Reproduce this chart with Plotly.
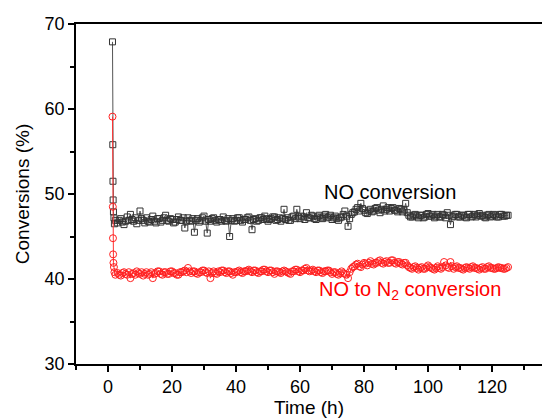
import plotly.graph_objects as go

time_early = [1.4, 1.5, 1.55, 1.6, 1.7, 1.85, 2.0, 2.3]
time_regular = [3 + 0.5 * i for i in range(245)]
time_h = time_early + time_regular

no_conv = [67.9, 55.8, 51.5, 49.3, 47.9, 47.2, 46.5, 46.9,
    46.6, 46.9, 47.1, 46.7, 46.4, 46.8, 47.3, 46.9, 47.6, 47.0,
    46.8, 47.2, 46.5, 46.9, 48.0, 47.1, 46.9, 46.6, 47.2, 46.8,
    46.7, 47.0, 47.4, 46.8, 46.6, 47.1, 47.1, 46.7, 46.9, 47.2,
    47.5, 46.9, 46.8, 47.1, 47.0, 46.6, 46.7, 47.0, 47.3, 46.9,
    46.9, 47.2, 46.0, 46.8, 47.2, 46.9, 46.8, 47.1, 45.5, 46.9,
    47.1, 46.7, 46.9, 47.2, 47.4, 46.8, 45.4, 47.0, 46.8, 47.1,
    47.2, 46.9, 46.7, 47.0, 47.0, 46.8, 47.3, 46.9, 46.8, 47.1,
    45.0, 46.9, 47.1, 46.8, 46.9, 47.2, 47.2, 46.9, 46.7, 47.0,
    47.0, 47.2, 47.3, 46.9, 45.8, 47.0, 47.1, 46.8, 46.9, 47.2,
    47.2, 47.0, 47.4, 47.1, 46.8, 47.0, 47.1, 47.3, 47.3, 46.9,
    47.0, 47.2, 46.8, 47.1, 48.2, 47.0, 47.2, 46.9, 46.9, 47.3,
    47.4, 47.1, 48.2, 47.3, 47.1, 47.4, 47.3, 47.0, 47.8, 47.2,
    47.2, 47.5, 47.4, 47.1, 47.0, 47.3, 47.5, 47.2, 47.1, 47.4,
    47.6, 47.2, 47.3, 47.5, 47.0, 47.2, 47.4, 47.1, 46.9, 47.2,
    47.3, 47.6, 48.0, 47.4, 46.2, 47.1, 47.6, 47.8, 47.9, 48.2,
    48.4, 48.0, 48.9, 48.3, 48.1, 47.8, 47.7, 48.0, 48.2, 47.9,
    48.0, 48.3, 48.4, 48.1, 47.8, 48.2, 48.6, 48.0, 48.2, 48.4,
    48.0, 48.3, 48.4, 48.1, 48.1, 47.9, 48.3, 48.2, 47.9, 48.1,
    48.9, 47.8, 47.5, 47.3, 47.3, 47.5, 47.6, 47.4, 47.2, 47.5,
    47.5, 47.2, 47.3, 47.6, 47.7, 47.4, 47.4, 47.6, 47.2, 47.4,
    47.6, 47.3, 47.3, 47.6, 47.5, 47.2, 47.8, 47.5, 46.4, 47.3,
    47.4, 47.6, 47.6, 47.3, 47.3, 47.5, 47.5, 47.3, 47.2, 47.6,
    47.6, 47.3, 47.4, 47.6, 47.3, 47.5, 47.7, 47.4, 47.5, 47.3,
    47.2, 47.5, 47.6, 47.3, 47.4, 47.6, 47.5, 47.3, 47.3, 47.6,
    47.6, 47.4, 47.4, 47.5, 47.5]

no_to_n2 = [59.1, 48.5, 44.8, 42.9, 41.9, 41.4, 40.8, 40.5,
    40.7, 40.5, 40.4, 40.7, 40.8, 40.6, 40.5, 40.8, 40.1, 40.6,
    40.7, 40.5, 40.9, 40.7, 40.6, 40.8, 40.4, 40.6, 40.8, 40.5,
    40.6, 40.8, 40.1, 40.6, 40.7, 40.9, 40.9, 40.6, 40.5, 40.8,
    40.8, 40.6, 40.6, 40.9, 40.9, 40.7, 40.7, 40.5, 40.5, 40.8,
    40.8, 40.9, 41.0, 40.8, 41.3, 40.9, 40.7, 40.9, 40.9, 40.7,
    40.6, 40.8, 40.8, 41.0, 41.0, 40.8, 40.7, 40.9, 40.1, 40.7,
    40.9, 40.7, 40.6, 40.9, 40.8, 41.0, 41.0, 40.8, 40.7, 40.9,
    40.9, 40.7, 40.5, 40.8, 40.8, 40.9, 41.0, 40.8, 40.7, 40.9,
    40.9, 41.0, 41.1, 40.9, 40.8, 41.0, 41.0, 40.8, 40.7, 40.9,
    40.9, 41.1, 41.1, 40.9, 40.8, 41.0, 41.0, 40.8, 40.6, 40.9,
    40.9, 40.8, 40.7, 40.9, 41.0, 40.9, 40.8, 40.7, 40.6, 40.9,
    40.9, 41.1, 41.1, 40.9, 40.8, 41.0, 41.0, 41.2, 41.3, 41.0,
    40.9, 41.0, 41.1, 40.9, 40.8, 41.0, 41.0, 40.8, 40.7, 40.9,
    40.9, 41.0, 41.0, 40.8, 40.6, 40.8, 40.8, 40.6, 40.5, 40.7,
    40.9, 40.7, 40.6, 40.5, 40.1, 40.8, 41.2, 41.4, 41.5, 41.7,
    41.8, 41.5, 41.4, 41.7, 41.9, 41.8, 41.6, 41.9, 42.1, 41.8,
    41.7, 41.9, 41.9, 42.1, 42.2, 41.9, 41.8, 42.0, 42.1, 41.9,
    41.9, 42.2, 42.2, 41.9, 41.8, 42.0, 42.0, 41.8, 41.7, 41.9,
    41.9, 41.6, 41.4, 41.3, 41.2, 41.4, 41.5, 41.3, 41.1, 41.3,
    41.4, 41.2, 41.2, 41.4, 41.6, 41.4, 41.3, 41.2, 41.1, 41.3,
    41.5, 41.3, 41.2, 41.4, 42.0, 41.6, 41.4, 41.3, 42.0, 41.5,
    41.2, 41.4, 41.5, 41.3, 41.3, 41.2, 41.1, 41.3, 41.4, 41.3,
    41.2, 41.4, 41.5, 41.3, 41.3, 41.2, 41.1, 41.3, 41.4, 41.2,
    41.2, 41.4, 41.5, 41.3, 41.3, 41.2, 41.2, 41.3, 41.4, 41.3,
    41.3, 41.2, 41.2, 41.3, 41.4]

x_ticks = [0, 20, 40, 60, 80, 100, 120]
y_ticks = [30, 40, 50, 60, 70]

font_family = "Liberation Sans, Arial, sans-serif"

fig = go.Figure()
fig.add_trace(go.Scatter(
    x=time_h, y=no_conv, mode="lines+markers",
    line=dict(color="#555555", width=1),
    marker=dict(symbol="square-open", size=6, color="#333333", line=dict(width=1)),
    showlegend=False))
fig.add_trace(go.Scatter(
    x=time_h, y=no_to_n2, mode="lines+markers",
    line=dict(color="#ff3030", width=1),
    marker=dict(symbol="circle-open", size=7, color="#ff2020", line=dict(width=1)),
    showlegend=False))

fig.add_annotation(x=88, y=50.2, text="NO conversion", showarrow=False,
                   font=dict(family=font_family, size=20, color="black"))
fig.add_annotation(x=94.4, y=38.6, text="NO to N<sub>2</sub> conversion", showarrow=False,
                   font=dict(family=font_family, size=20, color="#ff0000"))

axis_common = dict(showline=True, linecolor="black", linewidth=1.5, ticks="outside",
                   ticklen=6, tickwidth=1.5, tickcolor="black", showgrid=False,
                   zeroline=False, tickfont=dict(family=font_family, size=18, color="black"))

fig.update_xaxes(range=[-10, 135.6], tickvals=x_ticks, mirror=True,
                 minor=dict(dtick=10, tick0=0, ticks="outside", ticklen=4, tickcolor="black", tickwidth=1.5, showgrid=False),
                 title=dict(text="Time (h)", font=dict(family=font_family, size=19, color="black"), standoff=2),
                 **axis_common)
fig.update_yaxes(range=[30, 70], tickvals=y_ticks,
                 minor=dict(dtick=5, tick0=0, ticks="outside", ticklen=4, tickcolor="black", tickwidth=1.5, showgrid=False),
                 title=dict(text="Conversions (%)", font=dict(family=font_family, size=19, color="black"), standoff=10),
                 **axis_common)

fig.update_layout(width=542, height=418, margin=dict(l=76, r=0, t=24, b=54, autoexpand=False),
                  plot_bgcolor="white", paper_bgcolor="white",
                  font=dict(family=font_family))
fig.write_html("out.html")
